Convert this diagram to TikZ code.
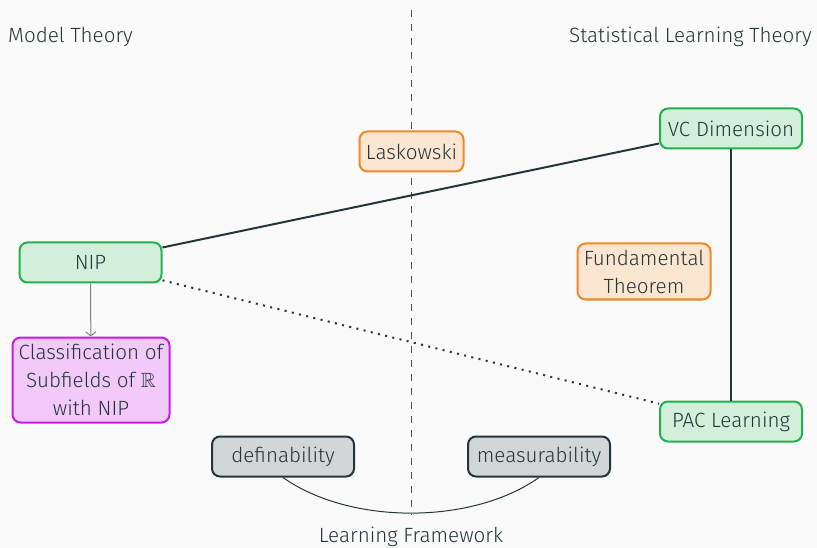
\documentclass[tikz,border=0pt]{standalone}
\usepackage{amssymb}
\usepackage{fontspec}
\setmainfont{Fira Sans Light}
\usetikzlibrary{arrows.meta}

\definecolor{bgc}{HTML}{FAFAFA}
\definecolor{ink}{HTML}{23373B}
\definecolor{greenfill}{HTML}{D2EFDA}
\definecolor{greenline}{HTML}{22B14C}
\definecolor{orangefill}{HTML}{FCE5D1}
\definecolor{orangeline}{HTML}{EE8828}
\definecolor{purplefill}{HTML}{F3C9F9}
\definecolor{purpleline}{HTML}{C81BE6}
\definecolor{grayfill}{HTML}{D2D6D6}

\tikzset{
  every node/.style={text=ink, font=\fontsize{20.6}{28}\selectfont},
  box/.style={draw, rounded corners=8pt, line width=2pt, align=center, inner sep=2pt},
  greenbox/.style={box, draw=greenline, fill=greenfill, minimum width=142pt, minimum height=40pt},
  orangebox/.style={box, draw=orangeline, fill=orangefill},
  purplebox/.style={box, draw=purpleline, fill=purplefill},
  graybox/.style={box, draw=ink, fill=grayfill, minimum width=142pt, minimum height=40pt},
  link/.style={draw=ink, line width=2pt},
}

\begin{document}
\begin{tikzpicture}[x=1pt, y=-1pt]
  % canvas
  \fill[bgc] (0,0) rectangle (817,548);
  \useasboundingbox (0,0) rectangle (817,548);

  % column headings
  \node[anchor=west, inner sep=0pt] (mt) at (8,37) {Model Theory};
  \node[anchor=east, inner sep=0pt] (slt) at (812,37) {Statistical Learning Theory};

  % divider between the two fields
  \coordinate (divtop) at (411,10);
  \coordinate (divbot) at (411,515);
  \draw[ink!85, line width=1pt, dash pattern=on 7pt off 7pt] (divtop) -- (divbot);

  % concepts
  \node[orangebox, minimum width=104pt, minimum height=40pt] (lask) at (411.5,151.5) {Laskowski};
  \node[greenbox] (vc) at (731,128.5) {VC Dimension};
  \node[greenbox] (nip) at (90.5,262.5) {NIP};
  \node[purplebox, minimum width=157pt, minimum height=85pt] (cls) at (91,380)
    {Classification of\\Subfields of $\mathbb{R}$\\with NIP};
  \node[orangebox, minimum width=133pt, minimum height=56pt] (fund) at (644,271.5)
    {Fundamental\\Theorem};
  \node[greenbox] (pac) at (731,421.5) {PAC Learning};
  \node[graybox] (defn) at (283,456.5) {definability};
  \node[graybox] (meas) at (539,456.5) {measurability};
  \node[inner sep=0pt] (lf) at (411,537) {Learning Framework};

  % connections
  \draw[link] (nip) -- (vc);
  \draw[link] (vc) -- (pac);
  \draw[draw=ink, line width=2pt, dash pattern=on 2pt off 5.4pt] (nip) -- (pac);
  \draw[ink!60, line width=1pt, -{Straight Barb[length=4pt,width=10pt]}] (nip) -- (cls);
  \draw[ink, line width=1pt] (defn.south) .. controls (350,525) and (472,525) .. (meas.south);
\end{tikzpicture}
\end{document}
